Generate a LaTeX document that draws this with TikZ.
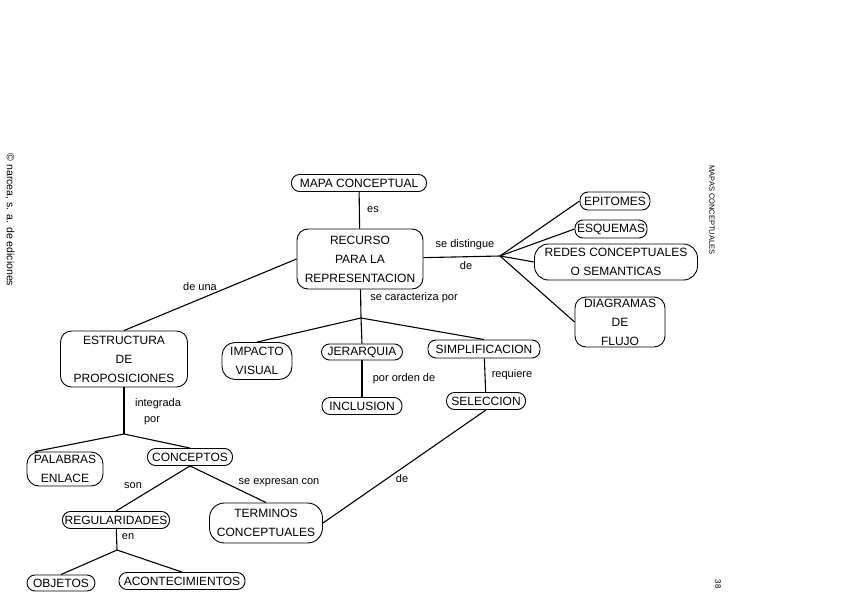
\documentclass[tikz,border=0pt]{standalone}
\usepackage{fontspec}
\setmainfont{Liberation Sans}
\begin{document}
\begin{tikzpicture}[x=1pt,y=-1pt,
  pill/.style={draw,line width=0.9pt,rounded corners=8pt,inner sep=0pt,align=center,font=\fontsize{12}{19}\selectfont},
  boxn/.style={draw,line width=0.9pt,rounded corners=11pt,inner sep=0pt,align=center,font=\fontsize{12}{19}\selectfont},
  lbl/.style={inner sep=1pt,font=\fontsize{11}{13}\selectfont},
  conn/.style={line width=1.1pt}]
\useasboundingbox (0,0) rectangle (848,599);
% nodes
\node[pill,minimum width=135pt,minimum height=17pt] (map) at (359,183) {MAPA CONCEPTUAL};
\node[boxn,minimum width=126pt,minimum height=60pt] (rec) at (360,259) {RECURSO\\PARA LA\\REPRESENTACION};
\node[pill,minimum width=70pt,minimum height=18pt] (epi) at (615,201) {EPITOMES};
\node[pill,minimum width=72pt,minimum height=18pt] (esq) at (611,229) {ESQUEMAS};
\node[boxn,minimum width=163pt,minimum height=36pt,rounded corners=14pt] (red) at (616,262) {REDES CONCEPTUALES\\O SEMANTICAS};
\node[boxn,minimum width=90pt,minimum height=50pt] (dia) at (620,322) {DIAGRAMAS\\DE\\FLUJO};
\node[boxn,minimum width=127pt,minimum height=56pt] (est) at (124,359) {ESTRUCTURA\\DE\\PROPOSICIONES};
\node[boxn,minimum width=70pt,minimum height=37pt,rounded corners=13pt] (imp) at (257,361) {IMPACTO\\VISUAL};
\node[pill,minimum width=81pt,minimum height=16pt] (jer) at (362,352) {JERARQUIA};
\node[pill,minimum width=112pt,minimum height=18pt] (sim) at (484,349) {SIMPLIFICACION};
\node[pill,minimum width=80pt,minimum height=17pt] (inc) at (362,406) {INCLUSION};
\node[pill,minimum width=79pt,minimum height=17pt] (sel) at (486,401) {SELECCION};
\node[boxn,minimum width=76pt,minimum height=34pt,rounded corners=12pt] (pal) at (65,469) {PALABRAS\\ENLACE};
\node[pill,minimum width=85pt,minimum height=17pt] (con) at (190,457) {CONCEPTOS};
\node[pill,minimum width=107pt,minimum height=17pt] (reg) at (116,520) {REGULARIDADES};
\node[boxn,minimum width=113pt,minimum height=40pt,rounded corners=15pt] (ter) at (266,523) {TERMINOS\\CONCEPTUALES};
\node[pill,minimum width=68pt,minimum height=16pt] (obj) at (61,583) {OBJETOS};
\node[pill,minimum width=126pt,minimum height=17pt] (aco) at (182,581) {ACONTECIMIENTOS};
% hubs
\coordinate (h1) at (500,256);
\coordinate (h2) at (361,318);
\coordinate (h3) at (124,434);
\coordinate (h4) at (117,550);
% connectors
\draw[conn] (map) -- (rec);
\draw[conn] (rec) -- (h1);
\draw[conn] (h1) -- (epi.west);
\draw[conn] (h1) -- (esq.west);
\draw[conn] (h1) -- (red.west);
\draw[conn] (h1) -- (dia.west);
\draw[conn] (rec.west) -- (est.north);
\draw[conn] (rec) -- (h2);
\draw[conn] (h2) -- (imp.north);
\draw[conn] (h2) -- (jer.north);
\draw[conn] (h2) -- (sim.north);
\draw[conn] (jer) -- (inc);
\draw[conn] (sim) -- (sel);
\draw[conn] (sel.south) -- (ter.east);
\draw[conn] (est) -- (h3);
\draw[conn] (h3) -- (pal.150);
\draw[conn] (h3) -- (con.north);
\draw[conn] (con.south) -- (reg.north);
\draw[conn] (con.south) -- (ter.north);
\draw[conn] (reg) -- (h4);
\draw[conn] (h4) -- (obj.north);
\draw[conn] (h4) -- (aco.north);
% labels
\node[lbl] (l1) at (373,210) {es};
\node[lbl] (l2) at (465,245) {se distingue};
\node[lbl] (l3) at (466,266) {de};
\node[lbl] (l4) at (200,287) {de una};
\node[lbl] (l5) at (414,298) {se caracteriza por};
\node[lbl] (l6) at (404,379) {por orden de};
\node[lbl] (l7) at (512,375) {requiere};
\node[lbl] (l8) at (158,404) {integrada};
\node[lbl] (l9) at (152,421) {por};
\node[lbl] (l10) at (133,486) {son};
\node[lbl] (l11) at (279,483) {se expresan con};
\node[lbl] (l12) at (402,479) {de};
\node[lbl] (l13) at (128,537) {en};
% side texts
\node[inner sep=0pt,rotate=-90,font=\fontsize{10.5}{12}\selectfont] (s1) at (10,220) {© narcea, s. a. de ediciones};
\node[inner sep=0pt,rotate=-90,font=\fontsize{7.5}{9}\selectfont] (s2) at (712,210) {MAPAS CONCEPTUALES};
\node[inner sep=0pt,rotate=-90,font=\fontsize{8}{9}\selectfont] (s3) at (718,584) {38};
\end{tikzpicture}
\end{document}
